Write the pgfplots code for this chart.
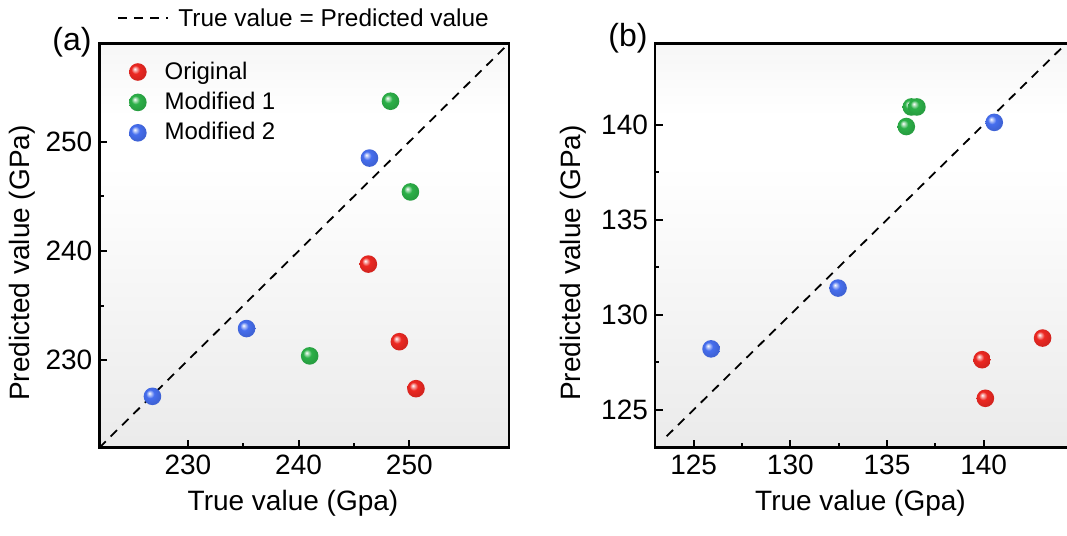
\documentclass[border=0pt]{standalone}
\usepackage{fontspec}
\setmainfont{Liberation Sans}
\usepackage{pgfplots}
\pgfplotsset{compat=1.18}
\definecolor{cred}{RGB}{236,40,34}
\definecolor{cgreen}{RGB}{44,176,72}
\definecolor{cblue}{RGB}{70,110,238}
\definecolor{bgbot}{gray}{0.92}
\definecolor{bgtop}{gray}{0.965}
\pgfdeclareverticalshading{bgshade}{100bp}{color(0bp)=(bgbot); color(25bp)=(bgbot); color(60bp)=(white); color(66bp)=(white); color(75bp)=(bgtop); color(100bp)=(bgtop)}
\pgfdeclareradialshading{shR}{\pgfpoint{-9bp}{9bp}}{color(0bp)=(white); color(4bp)=(cred!35!white); color(12bp)=(cred); color(25bp)=(cred!90!black); color(50bp)=(cred!90!black)}
\pgfdeclareradialshading{shG}{\pgfpoint{-9bp}{9bp}}{color(0bp)=(white); color(4bp)=(cgreen!35!white); color(12bp)=(cgreen); color(25bp)=(cgreen!90!black); color(50bp)=(cgreen!90!black)}
\pgfdeclareradialshading{shB}{\pgfpoint{-9bp}{9bp}}{color(0bp)=(white); color(4bp)=(cblue!35!white); color(12bp)=(cblue); color(25bp)=(cblue!90!black); color(50bp)=(cblue!90!black)}
\pgfdeclareplotmark{mkR}{\pgfpathcircle{\pgfpointorigin}{\pgfplotmarksize}\pgfshadepath{shR}{0}\pgfusepath{}}
\pgfdeclareplotmark{mkG}{\pgfpathcircle{\pgfpointorigin}{\pgfplotmarksize}\pgfshadepath{shG}{0}\pgfusepath{}}
\pgfdeclareplotmark{mkB}{\pgfpathcircle{\pgfpointorigin}{\pgfplotmarksize}\pgfshadepath{shB}{0}\pgfusepath{}}
\tikzset{diag/.style={black, line width=0.9pt, dash pattern=on 4.5pt off 3.5pt}}
\newcommand\lblfont{\fontsize{14}{17}\selectfont}
\pgfplotsset{
  panel/.style={
    scale only axis,
    axis line style={line width=1.3pt},
    tick style={black, line width=0.9pt},
    major tick length=4pt, minor tick length=2.2pt,
    tick align=inside,
    xtick pos=left, ytick pos=left,
    minor x tick num=1, minor y tick num=1,
    /pgf/number format/assume math mode=true,
    xticklabel={\lblfont\pgfmathprintnumber{\tick}},
    yticklabel={\lblfont\pgfmathprintnumber{\tick}},
    xticklabel style={font=\lblfont},
    yticklabel style={font=\lblfont},
    every axis x label/.style={at={(axis description cs:#1,0)}, anchor=center, yshift=-28pt, font=\lblfont},
    every axis y label/.style={at={(axis description cs:0,0.4567)}, anchor=center, rotate=90, font=\lblfont},
    axis background/.style={shading=bgshade},
    clip=true,
  },
  ballR/.style={only marks, mark=mkR, color=cred, mark size=4.4pt},
  ballG/.style={only marks, mark=mkG, color=cgreen, mark size=4.4pt},
  ballB/.style={only marks, mark=mkB, color=cblue, mark size=4.4pt},
}
\begin{document}
\begin{tikzpicture}
\path[use as bounding box] (0,0) rectangle (533.5pt,268pt);
\begin{axis}[panel=0.4728,
  at={(49.65pt,44.15pt)}, anchor=south west,
  width=204.85pt, height=202.2pt,
  xmin=222, xmax=259, ymin=222, ymax=259,
  xtick={230,240,250}, ytick={230,240,250},
  xlabel={True value (Gpa)}, ylabel={Predicted value (GPa)},
  ylabel style={yshift=38.4pt},
  legend style={draw=none, fill=none, at={(0.057,0.975)}, anchor=north west,
    font=\fontsize{12}{14}\selectfont, legend cell align=left,
    row sep=1pt, column sep=7pt},
]
\addplot[ballR] coordinates {(246.3,238.8) (249.1,231.7) (250.6,227.4)};
\addlegendentry{Original}
\addplot[ballG] coordinates {(248.3,253.7) (250.1,245.4) (241.0,230.4)};
\addlegendentry{Modified 1}
\addplot[ballB] coordinates {(246.4,248.5) (235.3,232.9) (226.8,226.7)};
\addlegendentry{Modified 2}
\addplot[diag, forget plot] coordinates {(222,222) (259,259)};
\end{axis}
\begin{axis}[panel=0.494,
  at={(327.5pt,44.15pt)}, anchor=south west,
  width=208pt, height=202.2pt,
  xmin=123, xmax=144.52, ymin=123, ymax=144.28,
  xtick={125,130,135,140}, ytick={125,130,135,140},
  xlabel={True value (Gpa)}, ylabel={Predicted value (GPa)},
  ylabel style={yshift=41pt},
]
\addplot[diag] coordinates {(123.6,123.6) (144.6,144.6)};
\addplot[ballR] coordinates {(139.92,127.63) (140.09,125.6) (143.05,128.77)};
\addplot[ballG] coordinates {(136.0,139.9) (136.26,140.93) (136.55,140.93)};
\addplot[ballB] coordinates {(125.9,128.2) (132.47,131.4) (140.55,140.12)};
\end{axis}
\draw[diag] (59pt,259pt) -- (84pt,259pt);
\node[anchor=west, font=\fontsize{12.2}{14}\selectfont, inner sep=0pt] at (89pt,259pt) {True value = Predicted value};
\node[font=\fontsize{16}{19}\selectfont] at (36pt,247pt) {(a)};
\node[font=\fontsize{16}{19}\selectfont] at (314pt,249pt) {(b)};
\end{tikzpicture}
\end{document}
